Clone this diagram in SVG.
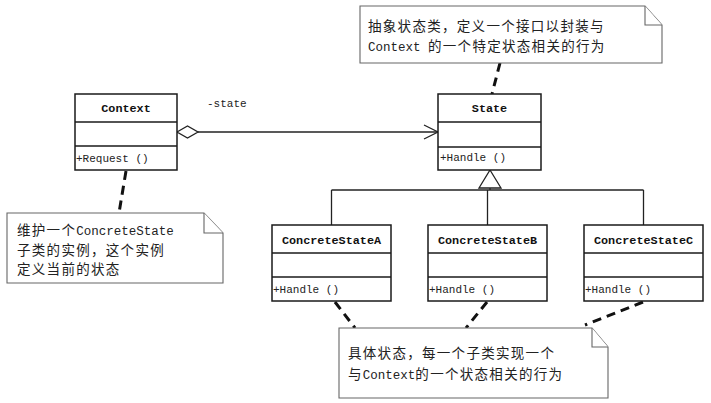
<svg xmlns="http://www.w3.org/2000/svg" width="711" height="403" viewBox="0 0 711 403">
<style>
.box{fill:#fff;stroke:#1a1a1a;stroke-width:1.5}
.div{stroke:#1a1a1a;stroke-width:1.3}
.note{fill:#fff;stroke:#666;stroke-width:1.1}
.title{font-family:"Liberation Mono",monospace;font-weight:bold;font-size:11.8px;fill:#111}
.op{font-family:"Liberation Mono",monospace;font-size:11px;fill:#222}
.cn{font-family:"Noto Sans CJK SC","Noto Sans",sans-serif;font-size:13.5px;letter-spacing:1.3px;fill:#222}
.en{font-family:"Liberation Mono",monospace;font-size:12.5px;letter-spacing:0}
.line{fill:none;stroke:#222;stroke-width:1.3}
.dash{fill:none;stroke:#111;stroke-width:3;stroke-dasharray:9 6}
</style>
<rect width="711" height="403" fill="#fff"/>
<g id="connectors">
  <line class="line" x1="198" y1="132" x2="438" y2="132"/>
  <path class="line" d="M177,132 L187.5,126 L198,132 L187.5,138 Z" fill="#fff"/>
  <path class="line" d="M424,125 L438,132 L424,139"/>
  <text x="207" y="107" class="op" font-size="12">-state</text>
  <path class="line" d="M490,170 L501,188 L479,188 Z" fill="#fff"/>
  <line class="line" x1="490" y1="188" x2="490" y2="190"/>
  <line class="line" x1="331.5" y1="190" x2="643.5" y2="190"/>
  <line class="line" x1="331.5" y1="190" x2="331.5" y2="225"/>
  <line class="line" x1="487.5" y1="190" x2="487.5" y2="225"/>
  <line class="line" x1="643.5" y1="190" x2="643.5" y2="225"/>
  <line class="dash" x1="126" y1="171" x2="119" y2="213"/>
  <line class="dash" x1="500" y1="63" x2="492" y2="94"/>
  <line class="dash" x1="335" y1="302" x2="355" y2="328"/>
  <line class="dash" x1="487" y1="302" x2="466" y2="328"/>
  <line class="dash" x1="643" y1="302" x2="585" y2="325"/>
</g>
<g id="context">
  <rect class="box" x="75" y="94" width="102" height="76"/>
  <line class="div" x1="75" y1="122" x2="177" y2="122"/>
  <line class="div" x1="75" y1="146" x2="177" y2="146"/>
  <text class="title" x="126" y="112" text-anchor="middle">Context</text>
  <text class="op" x="76" y="162">+Request ()</text>
</g>
<g id="state">
  <rect class="box" x="438" y="94" width="103" height="76"/>
  <line class="div" x1="438" y1="122" x2="541" y2="122"/>
  <line class="div" x1="438" y1="147" x2="541" y2="147"/>
  <text class="title" x="489.5" y="112" text-anchor="middle">State</text>
  <text class="op" x="440" y="161">+Handle ()</text>
</g>
<g id="concreteA">
  <rect class="box" x="272" y="225" width="119" height="76"/>
  <line class="div" x1="272" y1="253" x2="391" y2="253"/>
  <line class="div" x1="272" y1="277" x2="391" y2="277"/>
  <text class="title" x="331.5" y="244" text-anchor="middle">ConcreteStateA</text>
  <text class="op" x="273" y="293">+Handle ()</text>
</g>
<g id="concreteB">
  <rect class="box" x="428" y="225" width="119" height="76"/>
  <line class="div" x1="428" y1="253" x2="547" y2="253"/>
  <line class="div" x1="428" y1="277" x2="547" y2="277"/>
  <text class="title" x="487.5" y="244" text-anchor="middle">ConcreteStateB</text>
  <text class="op" x="429" y="293">+Handle ()</text>
</g>
<g id="concreteC">
  <rect class="box" x="584" y="225" width="119" height="76"/>
  <line class="div" x1="584" y1="253" x2="703" y2="253"/>
  <line class="div" x1="584" y1="277" x2="703" y2="277"/>
  <text class="title" x="643.5" y="244" text-anchor="middle">ConcreteStateC</text>
  <text class="op" x="585" y="293">+Handle ()</text>
</g>
<g id="note-state">
  <path class="note" d="M360,6 L645,6 L662,25 L662,63 L360,63 Z"/>
  <path class="note" d="M645,6 L645,25 L662,25" fill="none"/>
  <text class="cn"><tspan x="368" y="31">抽象状态类，定义一个接口以封装与</tspan><tspan x="368" y="50.5"><tspan class="en">Context </tspan>的一个特定状态相关的行为</tspan></text>
</g>
<g id="note-context">
  <path class="note" d="M7,213 L204,213 L223,233 L223,283 L7,283 Z"/>
  <path class="note" d="M204,213 L204,233 L223,233" fill="none"/>
  <text class="cn"><tspan x="17" y="235">维护一个<tspan class="en">ConcreteState</tspan></tspan><tspan x="17" y="254.5">子类的实例，这个实例</tspan><tspan x="17" y="274">定义当前的状态</tspan></text>
</g>
<g id="note-concrete">
  <path class="note" d="M339,328 L592,328 L608,347 L608,398 L339,398 Z"/>
  <path class="note" d="M592,328 L592,347 L608,347" fill="none"/>
  <text class="cn"><tspan x="348" y="358">具体状态，每一个子类实现一个</tspan><tspan x="348" y="379">与<tspan class="en">Context</tspan>的一个状态相关的行为</tspan></text>
</g>
</svg>
